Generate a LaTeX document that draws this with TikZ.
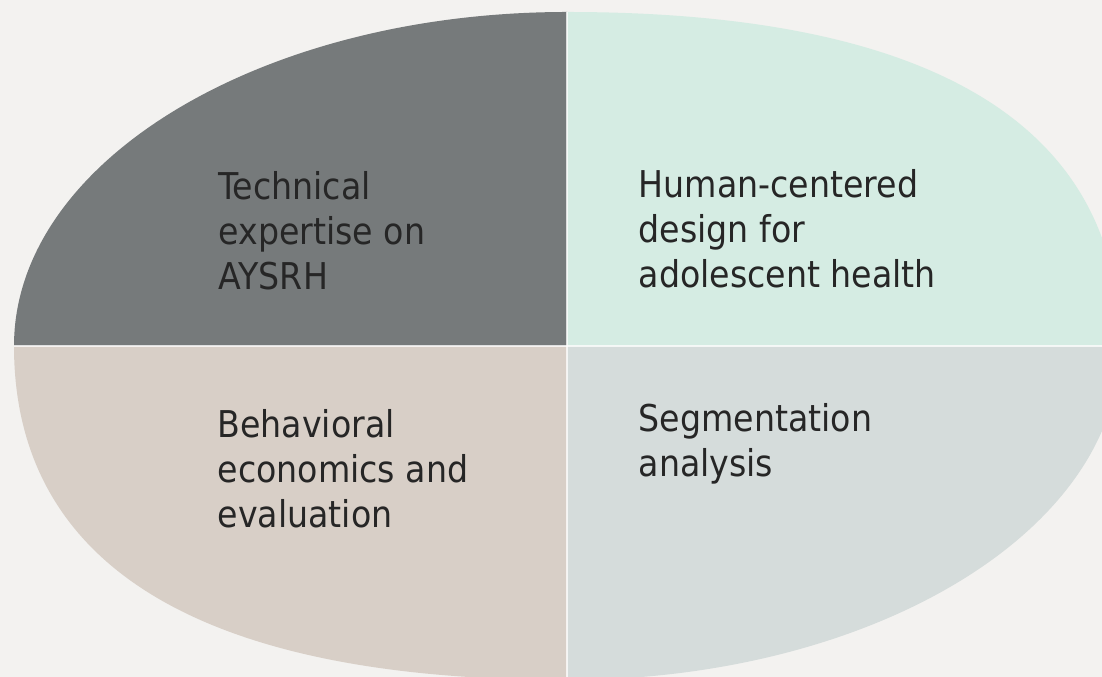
\documentclass[tikz,border=0pt]{standalone}
\usepackage{fontspec}
\setmainfont{DejaVu Sans Condensed}
\usetikzlibrary{calc}

\definecolor{bgcol}{RGB}{243,242,240}
\definecolor{techcol}{RGB}{118,122,123}
\definecolor{hcdcol}{RGB}{213,236,227}
\definecolor{becol}{RGB}{216,207,199}
\definecolor{segcol}{RGB}{213,220,219}
\definecolor{txtcol}{RGB}{38,38,38}

\tikzset{
  seam/.style={draw=white, opacity=0.75, line width=0.35pt},
  lbl/.style={anchor=base west, align=left, inner sep=0pt, text=txtcol,
    font=\fontsize{10.5}{12.8}\selectfont}
}

\begin{document}
\begin{tikzpicture}[x=0.01cm, y=-0.01cm]
	\fill[bgcol] (0,0) rectangle (1102,677); %background
	\useasboundingbox (0,0) rectangle (1102,677);
	\clip (0,0) rectangle (1102,677);
	\coordinate (c) at (567,346); %centre
	\coordinate (t) at (567,12); %top
	\coordinate (b) at (567,680); %bottom
	\coordinate (l) at (14,346); %left
	\coordinate (r) at (1120,346); %right
	\fill[techcol] (c) -- (l) .. controls (14,161) and (262,12) .. (t) -- cycle; %top left
	\fill[hcdcol] (c) -- (t) .. controls (965,12) and (1120,146) .. (r) -- cycle; %top right
	\fill[becol] (c) -- (l) .. controls (14,546) and (169,680) .. (b) -- cycle; %bottom left
	\fill[segcol] (c) -- (r) .. controls (1120,531) and (872,680) .. (b) -- cycle; %bottom right
	\draw[seam] (t) -- (b);
	\draw[seam] (l) -- (r);
	\node[lbl] (tech) at (218,290) {Technical\\expertise on\\AYSRH};
	\node[lbl] (hcd) at (638,288) {Human-centered\\design for\\adolescent health};
	\node[lbl] (beh) at (217,528) {Behavioral\\economics and\\evaluation};
	\node[lbl] (seg) at (638,477) {Segmentation\\analysis};
\end{tikzpicture}
\end{document}
